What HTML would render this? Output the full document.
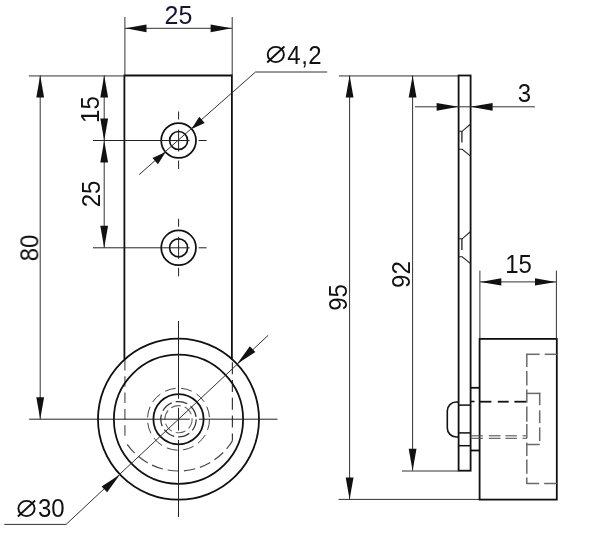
<!DOCTYPE html>
<html><head><meta charset="utf-8"><style>
html,body{margin:0;padding:0;background:#fff;}
svg{display:block;}
text{font-family:"Liberation Sans",sans-serif;}
</style></head><body>
<svg width="600" height="548" viewBox="0 0 600 548">
<rect width="600" height="548" fill="#fff"/>
<line x1="124.4" y1="75.5" x2="231.9" y2="75.5" stroke="#111" stroke-width="1.8"/>
<line x1="124.4" y1="74.6" x2="124.4" y2="359.589262712159" stroke="#111" stroke-width="1.8"/>
<line x1="231.9" y1="74.6" x2="231.9" y2="359.589262712159" stroke="#111" stroke-width="1.8"/>
<line x1="124.9" y1="360.0" x2="124.9" y2="440.86240252933436" stroke="#555" stroke-width="1.2" stroke-dasharray="10.5 5.8"/>
<line x1="232.4" y1="362.2" x2="232.4" y2="440.86240252933436" stroke="#3a3a3a" stroke-width="1.2" stroke-dasharray="12 5.8"/>
<path d="M124.9,440.86 A63,63 0 0 0 232.4,440.86" fill="none" stroke="#4a4a4a" stroke-width="1.2" stroke-dasharray="11.5 4.8" stroke-dashoffset="12"/>
<line x1="124.9" y1="17" x2="124.9" y2="75.5" stroke="#333" stroke-width="1.0"/>
<line x1="232.2" y1="17" x2="232.2" y2="75.5" stroke="#333" stroke-width="1.0"/>
<line x1="124.9" y1="28.3" x2="232.2" y2="28.3" stroke="#333" stroke-width="1.0"/>
<polygon points="125.50,28.30 146.50,24.40 146.50,32.20" fill="#111"/>
<polygon points="231.60,28.30 210.60,32.20 210.60,24.40" fill="#111"/>
<line x1="28.8" y1="75.95" x2="124.4" y2="75.95" stroke="#333" stroke-width="1.0"/>
<line x1="40.2" y1="75.5" x2="40.2" y2="419.2" stroke="#333" stroke-width="1.0"/>
<polygon points="40.20,75.50 44.10,97.50 36.30,97.50" fill="#111"/>
<polygon points="40.20,419.20 36.30,397.20 44.10,397.20" fill="#111"/>
<circle cx="178.6" cy="140.5" r="17.4" fill="none" stroke="#111" stroke-width="1.75"/>
<circle cx="178.6" cy="140.5" r="9.0" fill="none" stroke="#111" stroke-width="1.65"/>
<line x1="93" y1="140.5" x2="189.6" y2="140.5" stroke="#222" stroke-width="1.0"/>
<line x1="198.6" y1="140.5" x2="206.6" y2="140.5" stroke="#222" stroke-width="1.0"/>
<line x1="178.6" y1="129.5" x2="178.6" y2="151.5" stroke="#222" stroke-width="1.0"/>
<line x1="178.6" y1="111.5" x2="178.6" y2="119.5" stroke="#222" stroke-width="1.0"/>
<line x1="178.6" y1="160.5" x2="178.6" y2="169.0" stroke="#222" stroke-width="1.0"/>
<circle cx="178.6" cy="247.8" r="17.4" fill="none" stroke="#111" stroke-width="1.75"/>
<circle cx="178.6" cy="247.8" r="9.0" fill="none" stroke="#111" stroke-width="1.65"/>
<line x1="93" y1="247.8" x2="189.6" y2="247.8" stroke="#222" stroke-width="1.0"/>
<line x1="198.6" y1="247.8" x2="206.6" y2="247.8" stroke="#222" stroke-width="1.0"/>
<line x1="178.6" y1="236.8" x2="178.6" y2="258.8" stroke="#222" stroke-width="1.0"/>
<line x1="178.6" y1="218.8" x2="178.6" y2="226.8" stroke="#222" stroke-width="1.0"/>
<line x1="178.6" y1="267.8" x2="178.6" y2="276.3" stroke="#222" stroke-width="1.0"/>
<line x1="104.2" y1="75.5" x2="104.2" y2="247.8" stroke="#333" stroke-width="1.0"/>
<polygon points="104.20,75.50 108.10,97.50 100.30,97.50" fill="#111"/>
<polygon points="104.20,140.50 100.30,118.50 108.10,118.50" fill="#111"/>
<polygon points="104.20,140.50 108.10,162.50 100.30,162.50" fill="#111"/>
<polygon points="104.20,247.80 100.30,225.80 108.10,225.80" fill="#111"/>
<line x1="139.1" y1="174.7" x2="255.5" y2="72.0" stroke="#333" stroke-width="1.0"/>
<line x1="255.5" y1="72.0" x2="327.2" y2="72.0" stroke="#333" stroke-width="1.0"/>
<polygon points="165.70,151.88 157.92,164.22 152.49,158.07" fill="#111"/>
<polygon points="191.50,129.12 199.28,116.78 204.71,122.93" fill="#111"/>
<ellipse cx="275.8" cy="54.5" rx="8.1" ry="7.6" fill="none" stroke="#111" stroke-width="1.9"/>
<line x1="267.2" y1="62.5" x2="284.40000000000003" y2="46.5" stroke="#111" stroke-width="1.9"/>
<circle cx="178.5" cy="419.2" r="80.5" fill="none" stroke="#111" stroke-width="1.8"/>
<circle cx="178.5" cy="419.2" r="64.6" fill="none" stroke="#111" stroke-width="1.8"/>
<circle cx="178.5" cy="419.2" r="25.1" fill="none" stroke="#111" stroke-width="1.8"/>
<circle cx="178.5" cy="419.2" r="31.0" fill="none" stroke="#444" stroke-width="1.0" stroke-dasharray="11 5.5"/>
<circle cx="178.5" cy="419.2" r="17.7" fill="none" stroke="#333" stroke-width="1.25" stroke-dasharray="12 4"/>
<circle cx="178.5" cy="419.2" r="13.6" fill="none" stroke="#666" stroke-width="1.1" stroke-dasharray="10 4"/>
<line x1="29.2" y1="419.2" x2="189.8" y2="419.2" stroke="#222" stroke-width="1.0"/>
<line x1="199.0" y1="419.2" x2="277.5" y2="419.2" stroke="#222" stroke-width="1.0"/>
<line x1="178.5" y1="321" x2="178.5" y2="398.7" stroke="#222" stroke-width="1.0"/>
<line x1="178.5" y1="407.9" x2="178.5" y2="430.5" stroke="#222" stroke-width="1.0"/>
<line x1="178.5" y1="440.0" x2="178.5" y2="517" stroke="#222" stroke-width="1.0"/>
<line x1="66.1" y1="524.4" x2="268.2" y2="335.3" stroke="#333" stroke-width="1.0"/>
<line x1="4.3" y1="524.4" x2="66.1" y2="524.4" stroke="#333" stroke-width="1.0"/>
<polygon points="236.99,363.89 249.86,346.21 255.36,352.02" fill="#111"/>
<polygon points="120.01,474.51 107.14,492.19 101.64,486.38" fill="#111"/>
<ellipse cx="26.5" cy="508.5" rx="8.1" ry="7.6" fill="none" stroke="#111" stroke-width="1.9"/>
<line x1="17.9" y1="516.5" x2="35.1" y2="500.5" stroke="#111" stroke-width="1.9"/>
<line x1="338.9" y1="75.95" x2="458.6" y2="75.95" stroke="#333" stroke-width="1.0"/>
<rect x="458.6" y="75.5" width="12.0" height="395.2" fill="none" stroke="#111" stroke-width="1.8"/>
<path d="M470.6,124.0 L462.20000000000005,131.3 L458.6,131.3" fill="none" stroke="#222" stroke-width="1.1"/>
<path d="M470.6,156.1 L462.20000000000005,149.2 L458.6,149.2" fill="none" stroke="#222" stroke-width="1.1"/>
<line x1="461.90000000000003" y1="131.3" x2="461.90000000000003" y2="142.4" stroke="#222" stroke-width="1.3"/>
<path d="M470.6,231.5 L462.20000000000005,238.8 L458.6,238.8" fill="none" stroke="#222" stroke-width="1.1"/>
<path d="M470.6,263.6 L462.20000000000005,256.7 L458.6,256.7" fill="none" stroke="#222" stroke-width="1.1"/>
<line x1="461.90000000000003" y1="238.8" x2="461.90000000000003" y2="249.9" stroke="#222" stroke-width="1.3"/>
<line x1="349.6" y1="75.5" x2="349.6" y2="499.4" stroke="#333" stroke-width="1.0"/>
<polygon points="349.60,75.50 353.50,97.50 345.70,97.50" fill="#111"/>
<polygon points="349.60,499.40 345.70,477.40 353.50,477.40" fill="#111"/>
<line x1="412.6" y1="75.5" x2="412.6" y2="470.7" stroke="#333" stroke-width="1.0"/>
<polygon points="412.60,75.50 416.50,97.50 408.70,97.50" fill="#111"/>
<polygon points="412.60,470.70 408.70,448.70 416.50,448.70" fill="#111"/>
<line x1="338.5" y1="499.4" x2="479.6" y2="499.4" stroke="#333" stroke-width="1.0"/>
<line x1="402" y1="471.0" x2="458.6" y2="471.0" stroke="#333" stroke-width="1.0"/>
<line x1="415" y1="106.8" x2="534.9" y2="106.8" stroke="#333" stroke-width="1.0"/>
<polygon points="458.60,106.80 436.60,110.70 436.60,102.90" fill="#111"/>
<polygon points="470.60,106.80 492.60,102.90 492.60,110.70" fill="#111"/>
<rect x="479.6" y="338.9" width="77.19999999999993" height="160.70000000000005" fill="none" stroke="#111" stroke-width="1.8"/>
<line x1="479.9" y1="270.6" x2="479.9" y2="338.9" stroke="#333" stroke-width="1.0"/>
<line x1="556.4" y1="270.6" x2="556.4" y2="338.9" stroke="#333" stroke-width="1.0"/>
<line x1="479.9" y1="281.9" x2="556.4" y2="281.9" stroke="#333" stroke-width="1.0"/>
<polygon points="480.30,281.90 501.30,278.30 501.30,285.50" fill="#111"/>
<polygon points="556.00,281.90 535.00,285.50 535.00,278.30" fill="#111"/>
<line x1="470.6" y1="387.8" x2="479.6" y2="387.8" stroke="#111" stroke-width="1.8"/>
<line x1="470.6" y1="450.5" x2="479.6" y2="450.5" stroke="#111" stroke-width="1.8"/>
<path d="M458.6,402 L456.3,402 A9,9 0 0 0 447.3,411 L447.3,428 A9,9 0 0 0 456.3,437 L458.6,437" fill="none" stroke="#111" stroke-width="1.6"/>
<line x1="458.6" y1="405.1" x2="470.6" y2="405.1" stroke="#111" stroke-width="1.5"/>
<line x1="458.6" y1="432.9" x2="470.6" y2="432.9" stroke="#111" stroke-width="1.5"/>
<line x1="458.6" y1="445.7" x2="470.6" y2="445.7" stroke="#111" stroke-width="1.5"/>
<line x1="470.6" y1="401.5" x2="474.5" y2="401.5" stroke="#111" stroke-width="1.6"/>
<line x1="479.6" y1="401.7" x2="491.4" y2="401.7" stroke="#111" stroke-width="1.8"/>
<line x1="497.8" y1="401.7" x2="508.7" y2="401.7" stroke="#111" stroke-width="1.8"/>
<line x1="514.4" y1="401.7" x2="526.8" y2="401.7" stroke="#111" stroke-width="1.8"/>
<line x1="470.8" y1="435.8" x2="482.9" y2="435.8" stroke="#555" stroke-width="1.1"/>
<line x1="470.8" y1="438.3" x2="482.9" y2="438.3" stroke="#555" stroke-width="1.1"/>
<line x1="488.8" y1="435.8" x2="500.5" y2="435.8" stroke="#555" stroke-width="1.1"/>
<line x1="488.8" y1="438.3" x2="500.5" y2="438.3" stroke="#555" stroke-width="1.1"/>
<line x1="505.4" y1="435.8" x2="516.9" y2="435.8" stroke="#555" stroke-width="1.1"/>
<line x1="505.4" y1="438.3" x2="516.9" y2="438.3" stroke="#555" stroke-width="1.1"/>
<line x1="522.6" y1="435.8" x2="526.8" y2="435.8" stroke="#555" stroke-width="1.1"/>
<line x1="522.6" y1="438.3" x2="526.8" y2="438.3" stroke="#555" stroke-width="1.1"/>
<line x1="526.1999999999999" y1="354.3" x2="539.7" y2="354.3" stroke="#6a6a6a" stroke-width="1.5"/>
<line x1="544.6999999999999" y1="354.3" x2="556.8" y2="354.3" stroke="#6a6a6a" stroke-width="1.5"/>
<line x1="526.8" y1="353.7" x2="526.8" y2="367.1" stroke="#6a6a6a" stroke-width="1.5"/>
<line x1="526.8" y1="370.9" x2="526.8" y2="385.40000000000003" stroke="#6a6a6a" stroke-width="1.5"/>
<line x1="526.8" y1="389.5" x2="526.8" y2="402.6" stroke="#6a6a6a" stroke-width="1.5"/>
<line x1="526.8" y1="406.59999999999997" x2="526.8" y2="421.8" stroke="#6a6a6a" stroke-width="1.5"/>
<line x1="526.8" y1="424.0" x2="526.8" y2="438.20000000000005" stroke="#6a6a6a" stroke-width="1.5"/>
<line x1="526.8" y1="442.4" x2="526.8" y2="456.0" stroke="#6a6a6a" stroke-width="1.5"/>
<line x1="526.8" y1="459.59999999999997" x2="526.8" y2="473.8" stroke="#6a6a6a" stroke-width="1.5"/>
<line x1="526.8" y1="477.4" x2="526.8" y2="484.1" stroke="#6a6a6a" stroke-width="1.5"/>
<line x1="526.1999999999999" y1="483.5" x2="539.2" y2="483.5" stroke="#6a6a6a" stroke-width="1.5"/>
<line x1="544.1" y1="483.5" x2="556.8" y2="483.5" stroke="#6a6a6a" stroke-width="1.5"/>
<line x1="526.8" y1="393.4" x2="540.3000000000001" y2="393.4" stroke="#6a6a6a" stroke-width="1.5"/>
<line x1="539.7" y1="392.79999999999995" x2="539.7" y2="405.2" stroke="#6a6a6a" stroke-width="1.5"/>
<line x1="539.7" y1="410.29999999999995" x2="539.7" y2="423.2" stroke="#6a6a6a" stroke-width="1.5"/>
<line x1="539.7" y1="427.4" x2="539.7" y2="441" stroke="#6a6a6a" stroke-width="1.5"/>
<line x1="526.8" y1="444.5" x2="539.7" y2="444.5" stroke="#6a6a6a" stroke-width="1.5"/>
<g style="will-change:transform">
<text x="0" y="0" transform="translate(178.4,23.8) scale(1,1.02)" font-size="25" text-anchor="middle" fill="#1a1238">25</text>
<text x="0" y="0" transform="translate(38.2,248) rotate(-90) scale(1,1.04)" font-size="24" text-anchor="middle" fill="#111">80</text>
<text x="0" y="0" transform="translate(99.3,109.6) rotate(-90) scale(1,1.04)" font-size="24" text-anchor="middle" fill="#111">15</text>
<text x="0" y="0" transform="translate(99.5,194) rotate(-90) scale(1,1.04)" font-size="24" text-anchor="middle" fill="#111">25</text>
<text x="0" y="0" transform="translate(287.3,63.5) scale(1,1.04)" font-size="24" fill="#111" letter-spacing="0.5">4,2</text>
<text x="0" y="0" transform="translate(38,517) scale(1,1.04)" font-size="24" text-anchor="start" fill="#111">30</text>
<text x="0" y="0" transform="translate(346.9,297.5) rotate(-90) scale(1,1.04)" font-size="24" text-anchor="middle" fill="#111">95</text>
<text x="0" y="0" transform="translate(410,274.6) rotate(-90) scale(1,1.04)" font-size="24" text-anchor="middle" fill="#111">92</text>
<text x="0" y="0" transform="translate(524.5,102.1) scale(1,1.04)" font-size="24" text-anchor="middle" fill="#111">3</text>
<text x="0" y="0" transform="translate(518.5,273.4) scale(1,1.04)" font-size="24" text-anchor="middle" fill="#111">15</text>
</g>
</svg>
</body></html>
